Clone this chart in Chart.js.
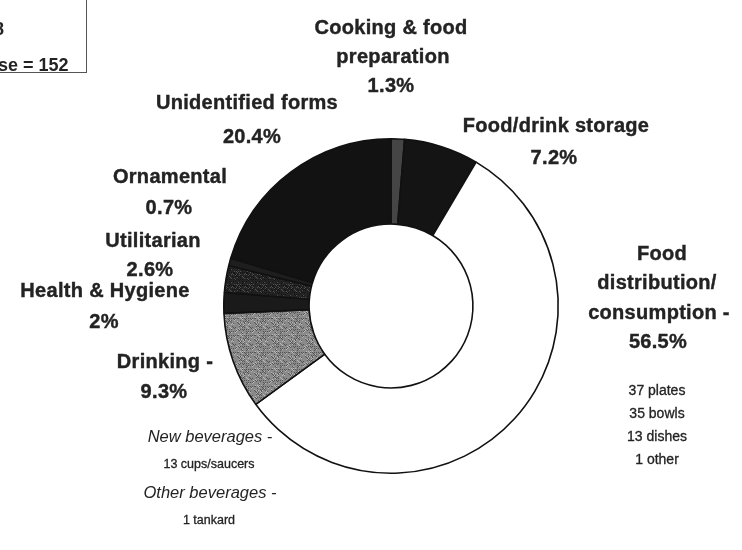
<!DOCTYPE html>
<html>
<head>
<meta charset="utf-8">
<script src="https://cdn.jsdelivr.net/npm/chart.js@4/dist/chart.umd.min.js"></script>
<style>
  html, body { margin: 0; padding: 0; background: #fff; }
  #wrap { position: relative; width: 742px; height: 550px; }
</style>
</head>
<body>
<div id="wrap"><canvas id="chart" width="742" height="550"></canvas></div>
<script>
// Данные диаграммы (по часовой стрелке от 12 часов)
const categories = [
  "Cooking & food preparation",
  "Food/drink storage",
  "Food distribution/consumption",
  "Drinking",
  "Health & Hygiene",
  "Utilitarian",
  "Ornamental",
  "Unidentified forms",
];
const percents = [1.3, 7.2, 56.5, 9.3, 2, 2.6, 0.7, 20.4];
const sampleSize = 152;

// Подписи к сегментам (строки текста)
const labelLines = [
  ["Cooking & food", "preparation", "1.3%"],
  ["Food/drink storage", "7.2%"],
  ["Food", "distribution/", "consumption -", "56.5%"],
  ["Drinking -", "9.3%"],
  ["Health & Hygiene", "2%"],
  ["Utilitarian", "2.6%"],
  ["Ornamental", "0.7%"],
  ["Unidentified forms", "20.4%"],
];
const foodNotes = ["37 plates", "35 bowls", "13 dishes", "1 other"];
const drinkNotes = [
  ["New beverages -", "13 cups/saucers"],
  ["Other beverages -", "1 tankard"],
];

// Раскладка подписей: x центров строк, y первой строки, шаг строк
const labelLayout = [
  [[391, 393, 391], 28, 29],
  [[556, 554], 126, 32],
  [[662, 657, 659, 658], 254, 29.5],
  [[165, 164], 362, 30],
  [[105, 104], 291, 31],
  [[153, 150], 241, 29],
  [[170, 169], 177, 31],
  [[247, 252], 103, 34],
];

// Заливка с зерном (детерминированная, без случайных чисел)
const grain = (base, dark, light, size) => {
  const c = document.createElement("canvas");
  c.width = c.height = size;
  const g = c.getContext("2d");
  g.fillStyle = base;
  g.fillRect(0, 0, size, size);
  for (let y = 0; y < size; y++) {
    for (let x = 0; x < size; x++) {
      const h = ((x * 73856093) ^ (y * 19349663)) >>> 0;
      const v = h % 6;
      if (v === 0) { g.fillStyle = dark; g.fillRect(x, y, 1, 1); }
      else if (v === 1) { g.fillStyle = light; g.fillRect(x, y, 1, 1); }
    }
  }
  return g.createPattern(c, "repeat");
};

const ctx = document.querySelector("#chart").getContext("2d");

const colors = [
  "#454545",
  "#141414",
  "#ffffff",
  grain("#8a8a8a", "#555555", "#b8b8b8", 17),
  "#1a1a1a",
  grain("#242424", "#141414", "#505050", 13),
  "#1e1e1e",
  "#121212",
];

const bold = (c, text, x, y) => {
  c.fillText(text, x, y);
  c.strokeText(text, x, y);
};

const textPlugin = {
  id: "textLabels",
  afterDraw(chart) {
    const c = chart.ctx;
    c.save();
    c.fillStyle = "#232323";
    c.strokeStyle = "#232323";
    c.lineWidth = 0.4;
    c.textAlign = "center";
    c.textBaseline = "middle";
    c.font = "bold 20px 'Liberation Sans', Arial, sans-serif";
    c.letterSpacing = "0.3px";
    labelLines.forEach((lines, i) => {
      const [xs, y, step] = labelLayout[i];
      lines.forEach((t, j) => bold(c, t, xs[j], y + j * step));
    });

    c.font = "14px 'Liberation Sans', Arial, sans-serif";
    c.letterSpacing = "0px";
    c.lineWidth = 0.3;
    foodNotes.forEach((t, j) => bold(c, t, 657, 391 + j * 23));

    drinkNotes.forEach((pair, j) => {
      const y = 437 + j * 56;
      c.font = "italic 16.5px 'Liberation Sans', Arial, sans-serif";
      c.fillText(pair[0], 210, y);
      c.font = "12.5px 'Liberation Sans', Arial, sans-serif";
      bold(c, pair[1], 209, y + 28);
    });

    // Рамка с размером выборки в левом верхнем углу
    c.strokeStyle = "#555";
    c.lineWidth = 1;
    c.strokeRect(-10, -10, 96.5, 82.5);
    c.font = "bold 18px 'Liberation Sans', Arial, sans-serif";
    c.textAlign = "left";
    c.fillText("8", -6, 30);
    c.fillText(`se = ${sampleSize}`, -2, 66);
    c.restore();
  },
};

const chart = new Chart(ctx, {
  type: "doughnut",
  data: {
    labels: categories,
    datasets: [
      {
        data: percents,
        backgroundColor: colors,
        borderColor: "#111",
        borderWidth: 1.6,
        borderAlign: "center",
      },
    ],
  },
  options: {
    responsive: false,
    animation: false,
    cutout: "49%",
    rotation: 0,
    layout: { padding: { left: 223, right: 183, top: 138, bottom: 76 } },
    plugins: {
      legend: { display: false },
      tooltip: { enabled: false },
    },
  },
  plugins: [textPlugin],
});
</script>
</body>
</html>
